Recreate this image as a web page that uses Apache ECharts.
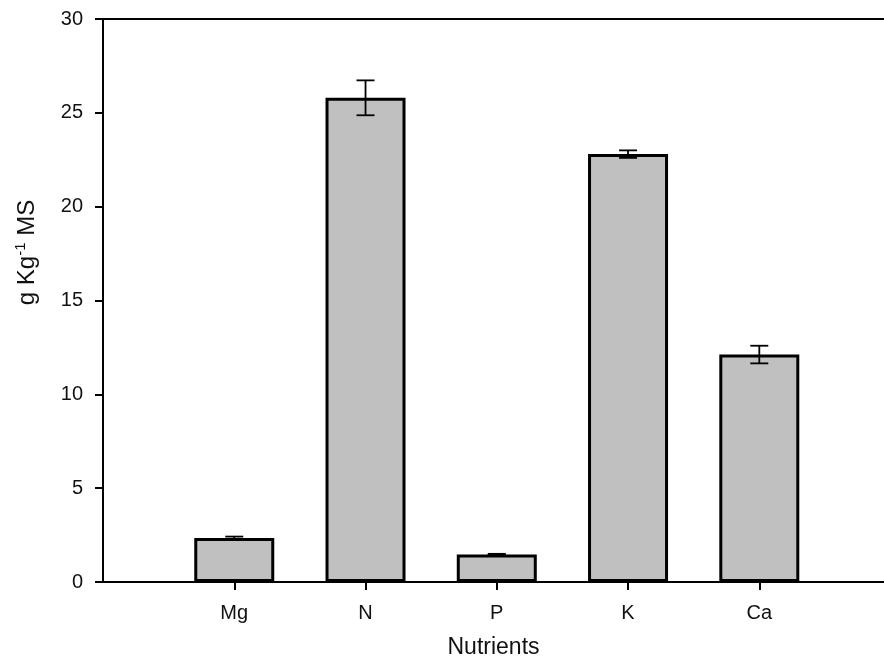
<!DOCTYPE html>
<html>
<head>
<meta charset="utf-8">
<script src="https://cdn.jsdelivr.net/npm/echarts@6/dist/echarts.min.js"></script>
<style>html,body{margin:0;padding:0;background:#fff}#c{width:884px;height:668px}</style>
</head>
<body>
<div id="c"></div>
<script>
const categories = ['Mg', 'N', 'P', 'K', 'Ca'];
const means = [2.35, 25.8, 1.47, 22.8, 12.12];
const errors = [0.07, 0.93, 0.03, 0.2, 0.47];
const yTicks = [0, 5, 10, 15, 20, 25, 30];

const positions = categories.map((c, i) => i + 1);
const barData = categories.map((c, i) => [positions[i], means[i]]);
const errData = categories.map((c, i) => [positions[i], means[i] - errors[i], means[i] + errors[i]]);

const chart = echarts.init(document.getElementById('c'), null, {renderer: 'canvas'});
const font = 'Arial, "Liberation Sans", sans-serif';
chart.setOption({
  animation: false,
  backgroundColor: '#fff',
  grid: {left: 103, right: 0, top: 19, bottom: 86},
  xAxis: [{
    type: 'value', min: 0, max: 5.95, position: 'bottom',
    splitLine: {show: false},
    axisLine: {show: true, onZero: false, lineStyle: {color: '#000', width: 2}},
    axisTick: {show: true, length: 8, inside: false, customValues: positions, lineStyle: {color: '#000', width: 2}},
    axisLabel: {customValues: positions, formatter: v => categories[Math.round(v) - 1] || '', color: '#111', fontSize: 20, fontFamily: font, margin: 21},
    name: 'Nutrients', nameLocation: 'middle', nameGap: 54,
    nameTextStyle: {color: '#111', fontSize: 23, fontFamily: font}
  }, {
    type: 'value', min: 0, max: 5.95, position: 'top',
    splitLine: {show: false},
    axisLine: {show: true, onZero: false, lineStyle: {color: '#000', width: 2}},
    axisTick: {show: false}, axisLabel: {show: false}
  }],
  yAxis: {
    type: 'value', min: 0, max: 30, interval: 5,
    splitLine: {show: false},
    axisLine: {show: true, onZero: false, lineStyle: {color: '#000', width: 2}},
    axisTick: {show: true, length: 8, lineStyle: {color: '#000', width: 2}},
    axisLabel: {color: '#111', fontSize: 20, fontFamily: font, margin: 20,
      formatter: v => yTicks.includes(v) ? String(v) : ''},
    name: 'g Kg{sup|-1} MS', nameLocation: 'middle', nameGap: 62, nameRotate: 90,
    nameTextStyle: {color: '#111', fontSize: 24, fontFamily: font, padding: [0, 0, 0, 96],
      rich: {sup: {fontSize: 15, verticalAlign: 'top', padding: [0, 0, 13, 0], fontFamily: font, color: '#111'}}}
  },
  series: [{
    type: 'bar', xAxisIndex: 0, data: barData, barWidth: 80,
    itemStyle: {color: '#c0c0c0', borderColor: '#000', borderWidth: 3},
    z: 2
  }, {
    type: 'custom', xAxisIndex: 0, data: errData, z: 5,
    renderItem: function (params, api) {
      const x = api.value(0);
      const lo = api.coord([x, api.value(1)]);
      const hi = api.coord([x, api.value(2)]);
      const hw = 9;
      const style = {stroke: '#000', lineWidth: 1.8};
      return {type: 'group', children: [
        {type: 'line', shape: {x1: lo[0], y1: lo[1], x2: hi[0], y2: hi[1]}, style},
        {type: 'line', shape: {x1: lo[0] - hw, y1: lo[1], x2: lo[0] + hw, y2: lo[1]}, style},
        {type: 'line', shape: {x1: hi[0] - hw, y1: hi[1], x2: hi[0] + hw, y2: hi[1]}, style}
      ]};
    }
  }]
});
</script>
</body>
</html>
